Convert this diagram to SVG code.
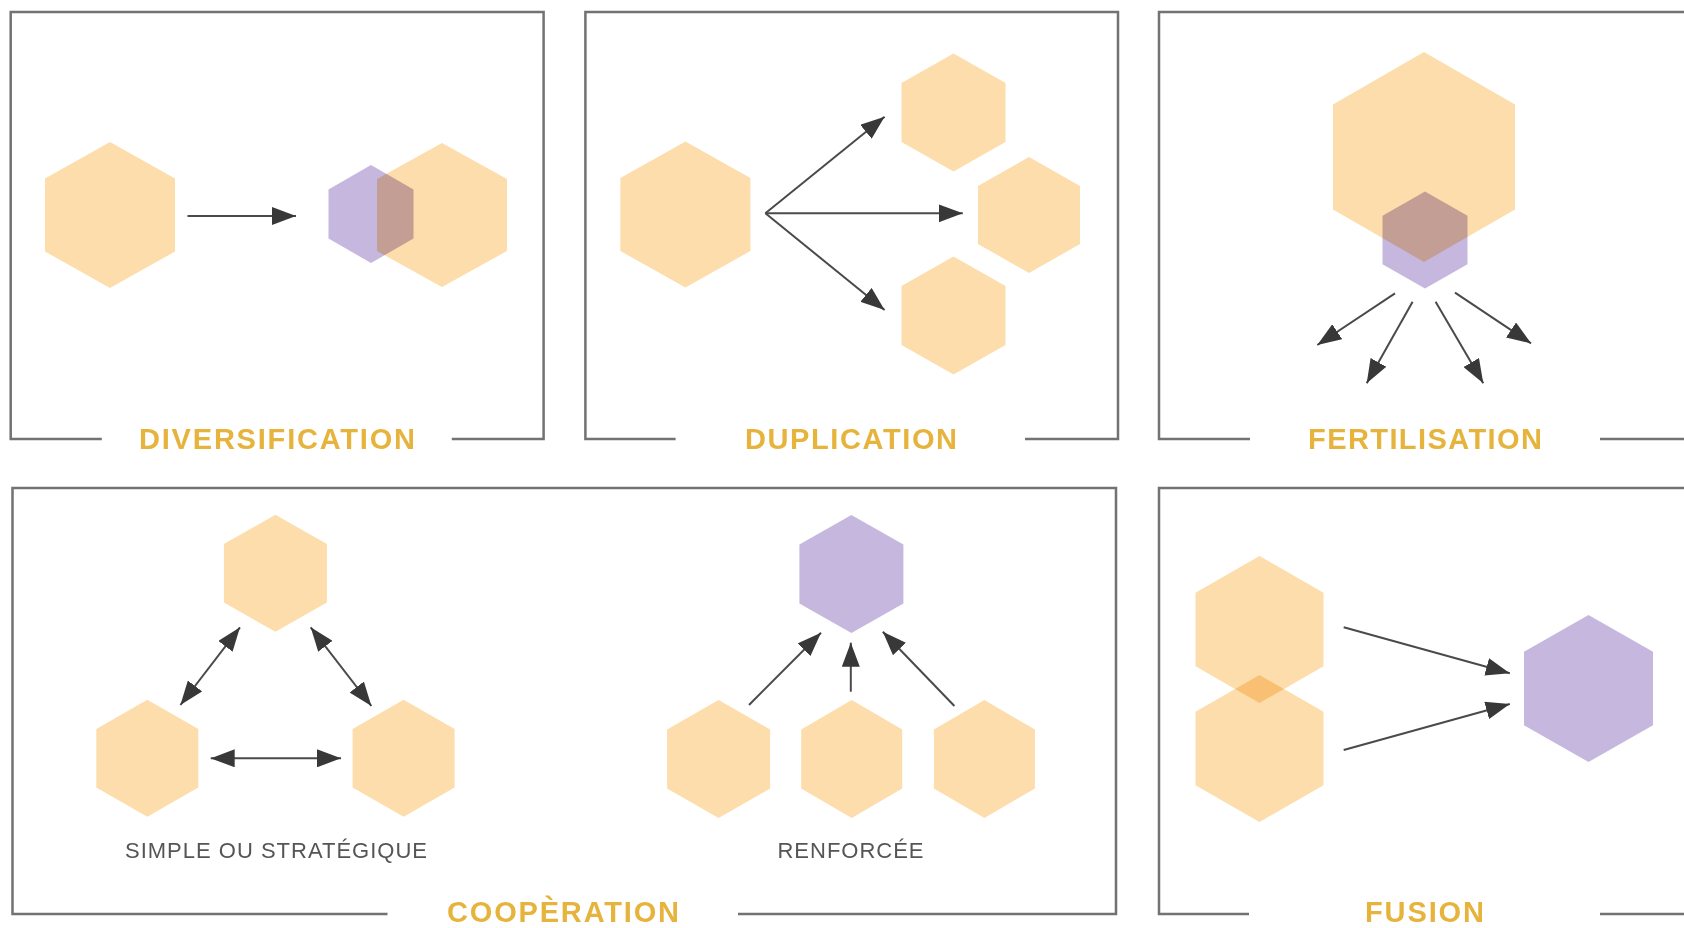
<svg xmlns="http://www.w3.org/2000/svg" width="1684" height="928" viewBox="0 0 1684 928">
<defs>
<style>
.frame{fill:none;stroke:#727272;stroke-width:2.5}
.or{fill:#FCDDAB;mix-blend-mode:multiply}
.pu{fill:#C6B7DF;mix-blend-mode:multiply}
.arr{fill:none;stroke:#4a4a4a;stroke-width:2;marker-end:url(#ah)}
.dbl{fill:none;stroke:#4a4a4a;stroke-width:2;marker-end:url(#ah);marker-start:url(#ah)}
.title{font-family:"Liberation Sans",Arial,sans-serif;font-weight:bold;font-size:29px;fill:#E6B33C;text-anchor:middle}
.sub{font-family:"Liberation Sans",Arial,sans-serif;font-size:22px;fill:#555555;text-anchor:middle}
</style>
<marker id="ah" viewBox="0 0 24 18" refX="24" refY="9" markerWidth="24" markerHeight="18" markerUnits="userSpaceOnUse" orient="auto-start-reverse">
<path d="M0,0 L24,9 L0,18 Z" fill="#383838"/>
</marker>
</defs>
<rect width="1684" height="928" fill="#ffffff"/>

<g id="frames">
<path class="frame" d="M101.8,439 H10.7 V12 H543.6 V439 H451.8"/>
<path class="frame" d="M675.6,439 H585.4 V12 H1118 V439 H1025"/>
<path class="frame" d="M1250,439 H1159 V12 H1690"/>
<path class="frame" d="M1600,439 H1690"/>
<path class="frame" d="M387.5,914 H12.5 V488 H1116 V914 H738"/>
<path class="frame" d="M1249,914 H1159 V488 H1690"/>
<path class="frame" d="M1600,914 H1690"/>
</g>

<g id="nodes">
<g id="div-source"><polygon class="or" points="110,142 175,178.5 175,251.5 110,288 45,251.5 45,178.5"/></g>
<g id="div-new"><polygon class="pu" points="371,165 413.5,189.5 413.5,238.5 371,263 328.5,238.5 328.5,189.5"/></g>
<g id="div-target"><polygon class="or" points="442,143 507,179 507,251 442,287 377,251 377,179"/></g>

<g id="dup-source"><polygon class="or" points="685.4,141.5 750.4,178 750.4,251 685.4,287.5 620.4,251 620.4,178"/></g>
<g id="dup-copy1"><polygon class="or" points="953.5,53.5 1005.5,83 1005.5,142 953.5,171.5 901.5,142 901.5,83"/></g>
<g id="dup-copy2"><polygon class="or" points="1029,157 1080,186 1080,244 1029,273 978,244 978,186"/></g>
<g id="dup-copy3"><polygon class="or" points="953.5,256.5 1005.5,286 1005.5,345 953.5,374.5 901.5,345 901.5,286"/></g>

<g id="fert-main"><polygon class="or" points="1424,52 1515,104.5 1515,209.5 1424,262 1333,209.5 1333,104.5"/></g>
<g id="fert-seed"><polygon class="pu" points="1425,191.5 1467.5,215.75 1467.5,264.25 1425,288.5 1382.5,264.25 1382.5,215.75"/></g>

<g id="coop-top"><polygon class="or" points="275.4,514.8 326.9,544 326.9,602.6 275.4,631.8 223.9,602.6 223.9,544"/></g>
<g id="coop-left"><polygon class="or" points="147.3,699.8 198.3,729 198.3,787.6 147.3,816.8 96.3,787.6 96.3,729"/></g>
<g id="coop-right"><polygon class="or" points="403.6,699.8 454.6,729 454.6,787.6 403.6,816.8 352.6,787.6 352.6,729"/></g>

<g id="renf-top"><polygon class="pu" points="851.4,515 903.4,544.5 903.4,603.5 851.4,633 799.4,603.5 799.4,544.5"/></g>
<g id="renf-left"><polygon class="or" points="718.6,700 770.1,729.5 770.1,788.5 718.6,818 667.1,788.5 667.1,729.5"/></g>
<g id="renf-mid"><polygon class="or" points="851.7,700 902.2,729.5 902.2,788.5 851.7,818 801.2,788.5 801.2,729.5"/></g>
<g id="renf-right"><polygon class="or" points="984.4,700 1034.9,729.5 1034.9,788.5 984.4,818 933.9,788.5 933.9,729.5"/></g>

<g id="fus-top"><polygon class="or" points="1259.5,556 1323.5,592.75 1323.5,666.25 1259.5,703 1195.5,666.25 1195.5,592.75"/></g>
<g id="fus-bottom"><polygon class="or" points="1259.5,675 1323.5,711.75 1323.5,785.25 1259.5,822 1195.5,785.25 1195.5,711.75"/></g>
<g id="fus-result"><polygon class="pu" points="1588.5,615 1653,651.75 1653,725.25 1588.5,762 1524,725.25 1524,651.75"/></g>
</g>

<g id="connectors">
<line class="arr" x1="187.5" y1="216" x2="296" y2="216"/>
<line class="arr" x1="765.4" y1="213.3" x2="884.6" y2="116.7"/>
<line class="arr" x1="765.4" y1="213.3" x2="962.8" y2="213.3"/>
<line class="arr" x1="765.4" y1="213.3" x2="884.6" y2="310"/>
<line class="arr" x1="1395" y1="293.3" x2="1317.3" y2="345"/>
<line class="arr" x1="1412.6" y1="301.7" x2="1366.7" y2="383.3"/>
<line class="arr" x1="1435.6" y1="301.7" x2="1483.3" y2="383.3"/>
<line class="arr" x1="1455" y1="292.7" x2="1531" y2="343.3"/>
<line class="dbl" x1="180.4" y1="705" x2="240" y2="627.3"/>
<line class="dbl" x1="310.7" y1="627.3" x2="371.4" y2="706"/>
<line class="dbl" x1="210.7" y1="758.3" x2="341" y2="758.3"/>
<line class="arr" x1="749" y1="705" x2="821" y2="632.7"/>
<line class="arr" x1="850.8" y1="691.7" x2="850.8" y2="642.7"/>
<line class="arr" x1="954.4" y1="706" x2="882.8" y2="631.7"/>
<line class="arr" x1="1343.7" y1="627.3" x2="1509.8" y2="673.3"/>
<line class="arr" x1="1343.7" y1="750" x2="1509.8" y2="704"/>
</g>

<g id="labels">
<text class="title" x="277" y="449" textLength="276" lengthAdjust="spacing">DIVERSIFICATION</text>
<text class="title" x="851" y="449" textLength="212" lengthAdjust="spacing">DUPLICATION</text>
<text class="title" x="1425" y="449" textLength="234" lengthAdjust="spacing">FERTILISATION</text>
<text class="title" x="563" y="922" textLength="232" lengthAdjust="spacing">COOPÈRATION</text>
<text class="title" x="1424.5" y="922" textLength="119" lengthAdjust="spacing">FUSION</text>
<text class="sub" x="276" y="858" textLength="302" lengthAdjust="spacing">SIMPLE OU STRATÉGIQUE</text>
<text class="sub" x="850.5" y="858" textLength="146" lengthAdjust="spacing">RENFORCÉE</text>
</g>
</svg>
